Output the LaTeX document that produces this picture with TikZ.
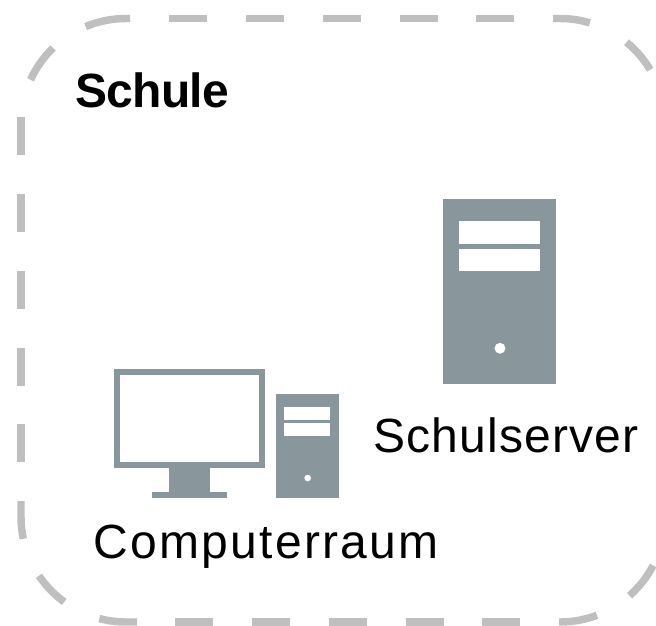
\documentclass[tikz,border=0pt]{standalone}
\usepackage{fontspec}
\setmainfont{Liberation Sans}
\newfontfamily\wideA[LetterSpace=2.5]{Liberation Sans}
\newfontfamily\wideB[LetterSpace=4.8]{Liberation Sans}
\definecolor{frameGray}{HTML}{BFBFBF}
\definecolor{iconGray}{HTML}{89969C}
\tikzset{
  frameline/.style={draw=frameGray,line width=5.6pt,line cap=butt},
  icon/.style={fill=iconGray,draw=none},
  slot/.style={fill=white,draw=none},
  lbl/.style={inner sep=0pt,anchor=base west,text=black}
}
\begin{document}
\begin{tikzpicture}[x=0.75pt,y=-0.75pt]
\useasboundingbox (0,0) rectangle (656,625);
\clip (0,0) rectangle (656,625);
\coordinate (tl) at (126,123.5);
\coordinate (tr) at (560,123.5);
\coordinate (bl) at (126,517);
\coordinate (br) at (560,517);
% straight dashes of the frame
\foreach \y in {117,194,271,347.5,424}
  \draw[frameline] (21,\y) -- (21,\y+38.4);
\foreach \x in {169,246,323,399.5,476}
  \draw[frameline] (\x,18.5) -- (\x+38.4,18.5);
\foreach \x in {175,252,329,405.5,482}
  \draw[frameline] (\x,622) -- (\x+38.4,622);
% corner dashes of the frame
\draw[frameline] ([shift={(155.4:78.75pt)}]tl) arc[start angle=155.4,end angle=134,radius=78.75pt];
\draw[frameline] ([shift={(112.6:78.75pt)}]tl) arc[start angle=112.6,end angle=90,radius=78.75pt] -- (130,18.5);
\draw[frameline] (553,18.5) -- ([shift={(90:78.75pt)}]tr) arc[start angle=90,end angle=73.5,radius=78.75pt];
\draw[frameline] ([shift={(50.7:78.75pt)}]tr) arc[start angle=50.7,end angle=30.8,radius=78.75pt];
\draw[frameline] (21,501) -- ([shift={(180:78.75pt)}]bl) arc[start angle=180,end angle=192,radius=78.75pt];
\draw[frameline] ([shift={(214:78.75pt)}]bl) arc[start angle=214,end angle=234,radius=78.75pt];
\draw[frameline] ([shift={(255.3:78.75pt)}]bl) arc[start angle=255.3,end angle=270,radius=78.75pt] -- (137,622);
\draw[frameline] ([shift={(-27.5:78.75pt)}]br) arc[start angle=-27.5,end angle=-48.5,radius=78.75pt];
\draw[frameline] ([shift={(-69.4:78.75pt)}]br) arc[start angle=-69.4,end angle=-90,radius=78.75pt] -- (559,622);
% monitor
\fill[icon] (113.5,369) rectangle (265,468);
\fill[slot] (120,375) rectangle (259,462);
\fill[icon] (169,468) rectangle (210,492);
\fill[icon] (152,491.5) rectangle (226.7,497.7);
% small tower
\fill[icon] (276.3,394.3) rectangle (338.7,497.7);
\fill[slot] (284.3,407.3) rectangle (330.3,420);
\fill[slot] (284.3,422.7) rectangle (330.3,435.7);
\fill[slot] (307.7,478) circle[radius=2.5pt];
% big tower
\fill[icon] (443.3,199) rectangle (556,383.7);
\fill[slot] (459,221.3) rectangle (540.3,244);
\fill[slot] (459,248.7) rectangle (540.3,270.7);
\fill[slot] (500,348.3) circle[radius=4.1pt];
% labels
\node[lbl,font=\fontsize{36pt}{40pt}\selectfont\bfseries\addfontfeature{LetterSpace=-1.5}] (schule) at (75,107) {Schule};
\node[lbl,font=\fontsize{36pt}{40pt}\wideA] (server) at (373,452) {Schulserver};
\node[lbl,font=\fontsize{36pt}{40pt}\wideB] (raum) at (93,558) {Computerraum};
\end{tikzpicture}
\end{document}
